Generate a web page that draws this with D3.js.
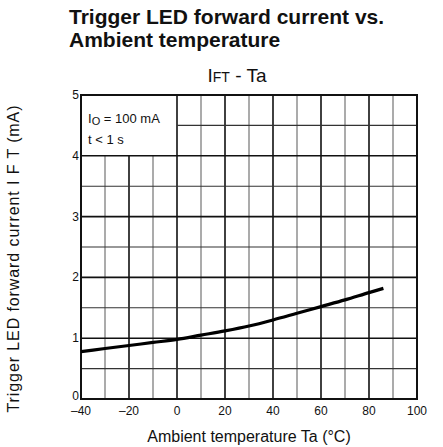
<!DOCTYPE html>
<html>
<head>
<style>
  body { margin: 0; background: #fff; }
  text { font-family: "Liberation Sans", Arial, sans-serif; fill: #111; }
</style>
</head>
<body>
<svg id="chart" width="443" height="447"></svg>
<script src="https://d3js.org/d3.v7.min.js"></script>
<script>
// curve: Ta (degC) -> IFT (mA)
var temps = [-40, -30, -20, -10, 0, 10, 20, 30, 40, 50, 60, 70, 80, 86];
var ift   = [0.78, 0.83, 0.88, 0.93, 0.98, 1.05, 1.12, 1.20, 1.30, 1.41, 1.52, 1.63, 1.75, 1.82];
var xTicks = [-40, -20, 0, 20, 40, 60, 80, 100];
var yTicks = [0, 1, 2, 3, 4, 5];
var xGrid = d3.range(-40, 101, 10);
var yGrid = d3.range(0, 5.01, 0.5);

var svg = d3.select('#chart');
var margin = {left: 81, right: 26, top: 95, bottom: 48};
var x = d3.scaleLinear().domain([-40, 100]).range([margin.left, 443 - margin.right]);
var y = d3.scaleLinear().domain([0, 5]).range([447 - margin.bottom, margin.top]);

// titles
svg.append('text').attr('x', 69).attr('y', 24).attr('font-size', 21).attr('font-weight', 'bold')
    .text('Trigger LED forward current vs.');
svg.append('text').attr('x', 69).attr('y', 47).attr('font-size', 21).attr('font-weight', 'bold')
    .text('Ambient temperature');
var sub = svg.append('text').attr('x', 237).attr('y', 82).attr('text-anchor', 'middle').attr('font-size', 19);
sub.append('tspan').text('I');
sub.append('tspan').attr('font-size', 14).text('FT');
sub.append('tspan').text(' - Ta');

// grid, legend corner (-40..0, 4..5) left empty
var grid = svg.append('g');
xGrid.forEach(function(v) {
    var top = (v > -40 && v < 0) ? 4 : 5;
    var major = v % 20 == 0;
    grid.append('line')
        .attr('x1', x(v)).attr('x2', x(v))
        .attr('y1', y(0)).attr('y2', y(top))
        .attr('stroke', major ? '#111' : '#666')
        .attr('stroke-width', major ? 1.6 : 1.1);
});
yGrid.forEach(function(v) {
    var left = (v > 4 && v < 5) ? 0 : -40;
    var major = v % 1 == 0;
    grid.append('line')
        .attr('x1', x(left)).attr('x2', x(100))
        .attr('y1', y(v)).attr('y2', y(v))
        .attr('stroke', major ? '#111' : '#333')
        .attr('stroke-width', major ? 1.6 : 1.1);
});
svg.append('rect')
    .attr('x', x(-40)).attr('y', y(5))
    .attr('width', x(100) - x(-40)).attr('height', y(0) - y(5))
    .attr('fill', 'none').attr('stroke', '#111').attr('stroke-width', 2);

// legend text
var leg = svg.append('text').attr('x', x(-40) + 7).attr('y', 123).attr('font-size', 13);
leg.append('tspan').text('I');
leg.append('tspan').attr('font-size', 11).attr('dy', 2).text('O');
leg.append('tspan').attr('dy', -2).text(' = 100 mA');
svg.append('text').attr('x', x(-40) + 7).attr('y', 144).attr('font-size', 13).text('t < 1 s');

// axes labels
svg.append('g').selectAll('text').data(xTicks).join('text')
    .attr('x', function(d) { return x(d); })
    .attr('y', 415)
    .attr('text-anchor', 'middle').attr('font-size', 12)
    .text(function(d) { return d < 0 ? '\u2013' + (-d) : d; });
svg.append('g').selectAll('text').data(yTicks).join('text')
    .attr('x', 79)
    .attr('y', function(d) { return y(d) + (d == 0 ? 1 : 4); })
    .attr('text-anchor', 'end').attr('font-size', 12)
    .text(function(d) { return d; });

svg.append('text').attr('x', 249).attr('y', 442).attr('text-anchor', 'middle').attr('font-size', 16)
    .text('Ambient temperature Ta (\u00b0C)');
svg.append('text').attr('transform', 'translate(19,259) rotate(-90)')
    .attr('text-anchor', 'middle').attr('font-size', 16)
    .attr('textLength', 307).attr('lengthAdjust', 'spacing')
    .text('Trigger LED forward current I F T (mA)');

// curve
var line = d3.line()
    .x(function(d, i) { return x(temps[i]); })
    .y(function(d) { return y(d); })
    .curve(d3.curveMonotoneX);
svg.append('path').datum(ift)
    .attr('d', line)
    .attr('fill', 'none').attr('stroke', '#000').attr('stroke-width', 3.2);
</script>
</body>
</html>
